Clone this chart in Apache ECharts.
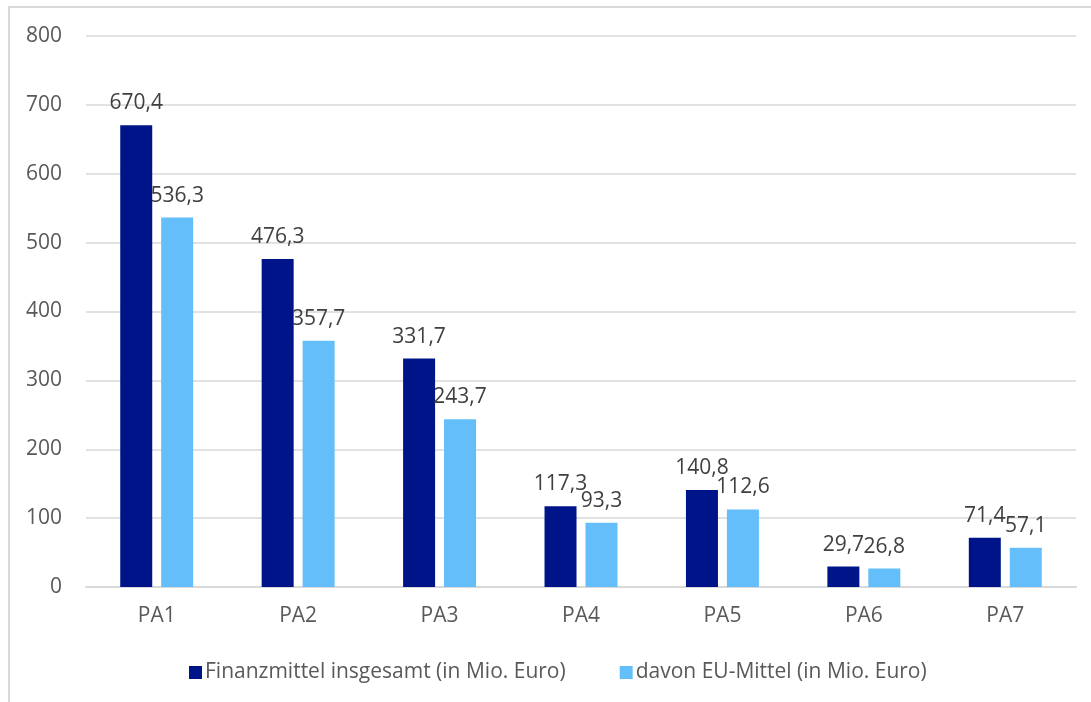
<!DOCTYPE html>
<html>
<head>
<meta charset="utf-8">
<script src="https://cdn.jsdelivr.net/npm/echarts@6/dist/echarts.min.js"></script>
<style>
html,body{margin:0;padding:0;background:#fff;}
#c{width:1091px;height:702px;}
</style>
</head>
<body>
<div id="c"></div>
<script>
var categories = ['PA1','PA2','PA3','PA4','PA5','PA6','PA7'];
var seriesNames = ['Finanzmittel insgesamt (in Mio. Euro)','davon EU-Mittel (in Mio. Euro)'];
var totalValues = [670.4, 476.3, 331.7, 117.3, 140.8, 29.7, 71.4];
var euValues = [536.3, 357.7, 243.7, 93.3, 112.6, 26.8, 57.1];
var yTicks = [0, 100, 200, 300, 400, 500, 600, 700, 800];

var FONT = '"Open Sans", sans-serif';
var chart = echarts.init(document.getElementById('c'), null, {renderer:'canvas'});
function fmt(p){ return p.value.toFixed(1).replace('.', ','); }
var labelCfg = {
  show: true, position: 'top', distance: 9,
  fontFamily: FONT, fontSize: 21, color: '#404040', lineHeight: 26,
  formatter: fmt
};
chart.setOption({
  animation: false,
  textStyle: {fontFamily: FONT},
  graphic: [{
    type: 'rect', silent: true, z: -1,
    shape: {x: 9, y: 7, width: 1200, height: 800},
    style: {fill: 'none', stroke: '#d9d9d9', lineWidth: 2}
  }],
  grid: {left: 86, right: 15, top: 36, bottom: 115, containLabel: false},
  legend: {
    left: 184, top: 657, itemWidth: 13, itemHeight: 13, itemGap: 54,
    icon: 'rect',
    textStyle: {fontFamily: FONT, fontSize: 21, color: '#595959', padding: [0,0,0,-2]},
    data: seriesNames
  },
  xAxis: {
    type: 'category', data: categories,
    axisLine: {lineStyle: {color: '#d9d9d9', width: 2}},
    axisTick: {show: false},
    axisLabel: {fontFamily: FONT, fontSize: 21, color: '#595959', margin: 19}
  },
  yAxis: {
    type: 'value', min: yTicks[0], max: yTicks[yTicks.length-1], interval: 100,
    axisLine: {show: false}, axisTick: {show: false},
    splitLine: {lineStyle: {color: '#d9d9d9', width: 1.5}},
    axisLabel: {fontFamily: FONT, fontSize: 21, color: '#595959', margin: 24}
  },
  series: [{
    name: seriesNames[0], type: 'bar', data: totalValues,
    barWidth: 32, barGap: '28%',
    itemStyle: {color: '#00148a'},
    label: labelCfg
  },{
    name: seriesNames[1], type: 'bar', data: euValues,
    barWidth: 32,
    itemStyle: {color: '#63bef9'},
    label: labelCfg
  }]
});
</script>
</body>
</html>
